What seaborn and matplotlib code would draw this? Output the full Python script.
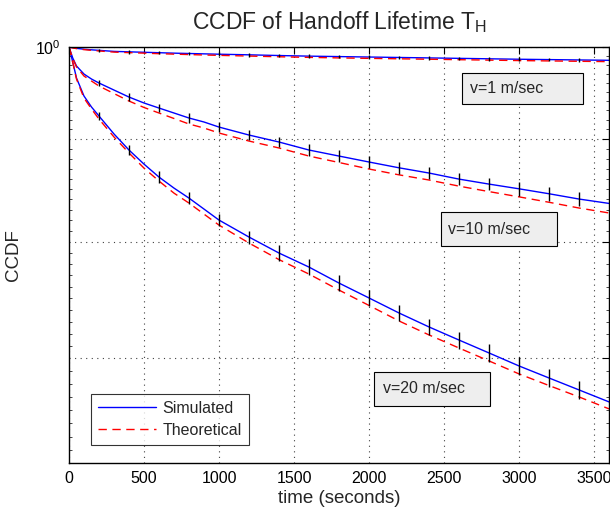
import pandas as pd
import matplotlib
matplotlib.use('Agg')
import matplotlib.pyplot as plt
from matplotlib.lines import Line2D
from matplotlib.patches import Rectangle
from matplotlib.ticker import FixedLocator, NullFormatter
import seaborn as sns

# time axis (seconds)
time_s = [0, 25, 50, 100, 150, 200, 300, 400, 500, 600, 700, 800, 900, 1000,
          1200, 1400, 1600, 1800, 2000, 2200, 2400, 2600, 2800, 3000, 3200, 3400, 3600]

# v = 1 m/sec
sim_v1 = [1.0, 0.9992, 0.9985, 0.9975, 0.9968, 0.9962, 0.9950, 0.9945, 0.9940, 0.9935,
          0.9930, 0.9926, 0.9922, 0.9918, 0.9911, 0.9903, 0.9896, 0.9891, 0.9886, 0.9881,
          0.9876, 0.9871, 0.9866, 0.9861, 0.9857, 0.9853, 0.9849]
theo_v1 = [1.0, 0.9990, 0.9982, 0.9970, 0.9962, 0.9955, 0.9942, 0.9936, 0.9930, 0.9924,
           0.9919, 0.9914, 0.9909, 0.9905, 0.9897, 0.9889, 0.9882, 0.9876, 0.9871, 0.9866,
           0.9861, 0.9856, 0.9851, 0.9846, 0.9842, 0.9838, 0.9834]

# v = 10 m/sec
sim_v10 = [1.0, 0.9875, 0.9785, 0.9695, 0.9640, 0.9596, 0.9519, 0.9443, 0.9379, 0.9325,
           0.9272, 0.9219, 0.9177, 0.9124, 0.9041, 0.8969, 0.8887, 0.8826, 0.8766, 0.8708,
           0.8656, 0.8596, 0.8547, 0.8501, 0.8453, 0.8402, 0.8360]
theo_v10 = [1.0, 0.9869, 0.9774, 0.9673, 0.9618, 0.9563, 0.9481, 0.9400, 0.9331, 0.9272,
            0.9214, 0.9156, 0.9114, 0.9062, 0.8979, 0.8908, 0.8826, 0.8761, 0.8696, 0.8638,
            0.8587, 0.8527, 0.8474, 0.8423, 0.8371, 0.8316, 0.8269]

# v = 20 m/sec
sim_v20 = [1.0, 0.9830, 0.9651, 0.9454, 0.9336, 0.9240, 0.9052, 0.8887, 0.8745, 0.8616,
           0.8508, 0.8411, 0.8306, 0.8202, 0.8044, 0.7898, 0.7772, 0.7631, 0.7502, 0.7374,
           0.7257, 0.7149, 0.7044, 0.6940, 0.6845, 0.6752, 0.6660]
theo_v20 = [1.0, 0.9824, 0.9640, 0.9432, 0.9315, 0.9208, 0.9021, 0.8857, 0.8705, 0.8577,
            0.8459, 0.8363, 0.8258, 0.8155, 0.7989, 0.7839, 0.7710, 0.7570, 0.7438, 0.7307,
            0.7191, 0.7084, 0.6980, 0.6877, 0.6786, 0.6698, 0.6607]

# error bars of the simulation (half widths), every 200 s
err_time = [200, 400, 600, 800, 1000, 1200, 1400, 1600, 1800, 2000, 2200, 2400,
            2600, 2800, 3000, 3200, 3400]
err_v1 = [0.002] * 17
err_v10 = [0.003, 0.004, 0.004, 0.005, 0.005, 0.005, 0.005, 0.006, 0.006,
           0.006, 0.006, 0.006, 0.006, 0.006, 0.007, 0.007, 0.007]
err_v20 = [0.004, 0.005, 0.006, 0.006, 0.006, 0.006, 0.007, 0.007, 0.007,
           0.007, 0.007, 0.007, 0.007, 0.007, 0.007, 0.007, 0.007]

speeds = ['v=1 m/sec', 'v=10 m/sec', 'v=20 m/sec']

rows = []
for sp, sim, theo in zip(speeds, [sim_v1, sim_v10, sim_v20], [theo_v1, theo_v10, theo_v20]):
    for t, s, th in zip(time_s, sim, theo):
        rows.append({'time': t, 'ccdf': s, 'speed': sp, 'kind': 'Simulated'})
        rows.append({'time': t, 'ccdf': th, 'speed': sp, 'kind': 'Theoretical'})
df = pd.DataFrame(rows)

sns.set_theme(style='white')
plt.rcParams['font.family'] = ['Liberation Sans', 'DejaVu Sans']
plt.rcParams['mathtext.fontset'] = 'custom'
plt.rcParams['mathtext.rm'] = 'Liberation Sans'

fig = plt.figure(figsize=(6.1, 5.15), dpi=100)
ax = fig.add_axes([0.1131, 0.101, 0.8853, 0.8077])

sns.lineplot(data=df, x='time', y='ccdf', hue='kind', style='kind', units='speed',
             estimator=None, palette={'Simulated': '#0000ff', 'Theoretical': '#ff0000'},
             dashes={'Simulated': '', 'Theoretical': (6, 4)}, lw=1, legend=False, ax=ax)

# error bars centred on the simulated curves
for sim, err in zip([sim_v1, sim_v10, sim_v20], [err_v1, err_v10, err_v20]):
    lookup = dict(zip(time_s, sim))
    centers = [lookup[t] for t in err_time]
    ax.errorbar(err_time, centers, yerr=err, fmt='none', ecolor='black',
                elinewidth=1, capsize=0, zorder=3)

ax.set_yscale('log')
ax.set_xlim(0, 3600)
ax.set_ylim(0.621, 1.0)

ax.set_xticks(range(0, 3501, 500))
ax.set_xticklabels([str(v) for v in range(0, 3501, 500)])
ax.yaxis.set_major_locator(FixedLocator([0.7, 0.8, 0.9, 1.0]))
ax.set_yticklabels(['', '', '', r'$\mathregular{10^0}$'])
ax.yaxis.set_minor_locator(FixedLocator([0.62 + 0.01 * i for i in range(38)]))
ax.yaxis.set_minor_formatter(NullFormatter())

ax.tick_params(axis='both', which='major', direction='in', length=5, width=0.8,
               top=True, right=True, labelsize=11.5, colors='black', pad=6)
ax.tick_params(axis='y', which='minor', direction='in', length=2.5, width=0.6,
               left=True, right=True)

ax.grid(True, which='major', color='0.25', linestyle=(0, (1, 4)), linewidth=0.8)
for sp in ax.spines.values():
    sp.set_color('black')
    sp.set_linewidth(1.0)

ax.set_xlabel('time (seconds)', fontsize=13.5, labelpad=3)
ax.set_ylabel('CCDF', fontsize=13.5)
ax.yaxis.set_label_coords(-0.087, 0.5)
ax.set_title(r'CCDF of Handoff Lifetime T$_{\mathregular{H}}$', fontsize=16.5, pad=13)

# speed annotation boxes (axes fraction)
boxes = [((0.728, 0.863), 0.224, 0.075, (0.743, 0.900)),
         ((0.689, 0.522), 0.215, 0.081, (0.702, 0.5625)),
         ((0.565, 0.137), 0.215, 0.082, (0.581, 0.178))]
for label, (xy, w, h, txy) in zip(speeds, boxes):
    ax.add_patch(Rectangle(xy, w, h, transform=ax.transAxes, facecolor='#eeeeee',
                           edgecolor='black', linewidth=0.8, zorder=4))
    ax.text(txy[0], txy[1], label, transform=ax.transAxes, fontsize=11.5,
            va='center', ha='left', zorder=5)

handles = [Line2D([], [], color='#0000ff', lw=1),
           Line2D([], [], color='#ff0000', lw=1, dashes=(6, 4))]
leg = ax.legend(handles, ['Simulated', 'Theoretical'], loc='lower left',
                bbox_to_anchor=(0.041, 0.043), borderaxespad=0, fontsize=11.5,
                frameon=True, fancybox=False, handlelength=3.6, handletextpad=0.4,
                borderpad=0.45, labelspacing=0.45)
leg.get_frame().set_edgecolor('black')
leg.get_frame().set_linewidth(0.8)

fig.savefig('out.png', dpi=100)
